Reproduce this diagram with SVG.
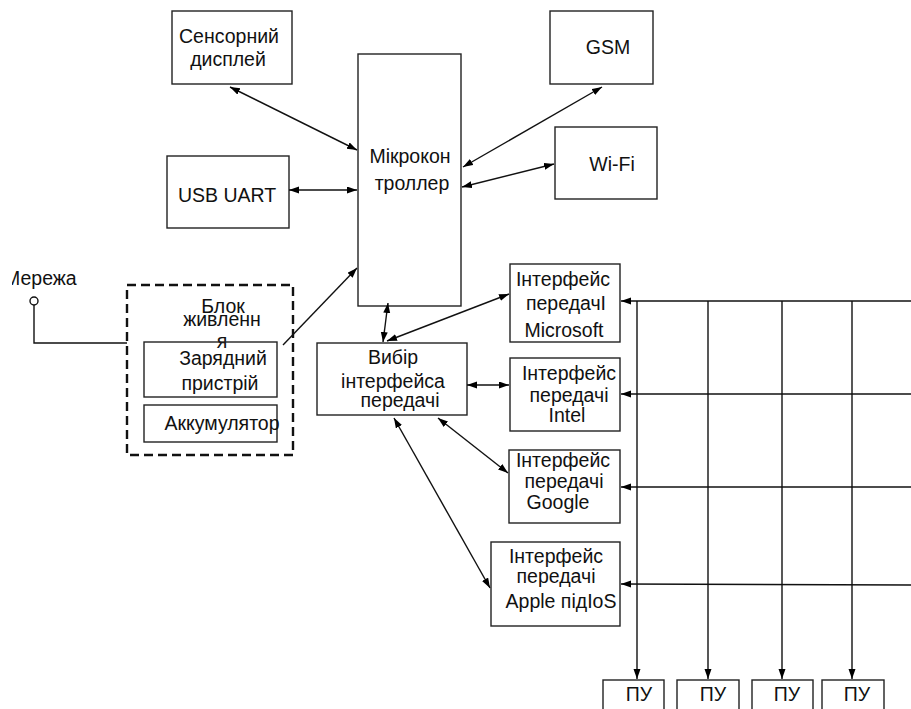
<svg xmlns="http://www.w3.org/2000/svg" width="911" height="709" viewBox="0 0 911 709">
<defs>
<marker id="ah" markerUnits="userSpaceOnUse" markerWidth="11" markerHeight="8" refX="10" refY="3.5" orient="auto-start-reverse" viewBox="0 0 11 8">
<path d="M0,0 L10,3.5 L0,7 z" fill="#000"/>
</marker>
<clipPath id="clipM"><rect x="12" y="260" width="100" height="40"/></clipPath>
</defs>
<style>
.box{fill:#fff;stroke:#222;stroke-width:1.4}
.dash{fill:none;stroke:#111;stroke-width:2.4;stroke-dasharray:9 5}
.t{font-family:"Liberation Sans",Arial,sans-serif;font-size:19.5px;fill:#111;text-anchor:middle}
.tl{font-family:"Liberation Sans",Arial,sans-serif;font-size:19.5px;fill:#111}
.ln{fill:none;stroke:#111;stroke-width:1.4}
.bi{fill:none;stroke:#111;stroke-width:1.4;marker-start:url(#ah);marker-end:url(#ah)}
.un{fill:none;stroke:#111;stroke-width:1.4;marker-end:url(#ah)}
</style>
<rect width="911" height="709" fill="#fff"/>

<g id="display">
<rect class="box" x="172" y="11" width="120" height="73"/>
<text class="t" x="229" y="43">Сенсорний</text>
<text class="t" x="228" y="66">дисплей</text>
</g>
<g id="usb">
<rect class="box" x="167" y="156" width="122" height="72"/>
<text class="t" x="227" y="202">USB UART</text>
</g>
<g id="mcu">
<rect class="box" x="358" y="54" width="103" height="252"/>
<text class="t" x="410" y="163">Мікрокон</text>
<text class="t" x="412" y="190">троллер</text>
</g>
<g id="gsm">
<rect class="box" x="550" y="11" width="103" height="73"/>
<text class="t" x="608" y="54">GSM</text>
</g>
<g id="wifi">
<rect class="box" x="555" y="127" width="102" height="72"/>
<text class="t" x="612" y="171">Wi-Fi</text>
</g>
<g id="network">
<text class="tl" x="4" y="285" clip-path="url(#clipM)">Мережа</text>
<circle cx="34" cy="301" r="4" fill="#fff" stroke="#111" stroke-width="1.4"/>
</g>
<g id="power">
<rect class="dash" x="127" y="285" width="166" height="170"/>
<text class="t" x="223" y="313">Блок</text>
<text class="t" x="222" y="326">живленн</text>
<text class="t" x="222" y="348">я</text>
</g>
<g id="charger">
<rect class="box" x="144" y="342" width="133" height="55" fill="none" style="fill:none"/>
<text class="t" x="223" y="365">Зарядний</text>
<text class="t" x="220" y="390">пристрій</text>
</g>
<g id="battery">
<rect class="box" x="144" y="405" width="133" height="37"/>
<text class="t" x="222" y="430">Аккумулятор</text>
</g>
<g id="selector">
<rect class="box" x="317" y="343" width="150" height="72"/>
<text class="t" x="393" y="364">Вибір</text>
<text class="t" x="393" y="388">інтерфейса</text>
<text class="t" x="400" y="407">передачі</text>
</g>
<g id="microsoft">
<rect class="box" x="510" y="264" width="110" height="78"/>
<text class="t" x="563" y="286">Інтерфейс</text>
<text class="t" x="566" y="310">передачІ</text>
<text class="t" x="564" y="337">Microsoft</text>
</g>
<g id="intel">
<rect class="box" x="510" y="358" width="110" height="73"/>
<text class="t" x="569" y="380">Інтерфейс</text>
<text class="t" x="569" y="402">передачі</text>
<text class="t" x="567" y="422">Intel</text>
</g>
<g id="google">
<rect class="box" x="509" y="450" width="111" height="73"/>
<text class="t" x="563" y="467">Інтерфейс</text>
<text class="t" x="564" y="488">передачі</text>
<text class="t" x="558" y="509">Google</text>
</g>
<g id="apple">
<rect class="box" x="491" y="542" width="129" height="84"/>
<text class="t" x="556" y="563">Інтерфейс</text>
<text class="t" x="556" y="583">передачі</text>
<text class="t" x="561" y="608">Apple підIoS</text>
</g>
<g id="pu1">
<rect class="box" x="603" y="680" width="61" height="40"/>
<text class="t" x="639" y="701">ПУ</text>
</g>
<g id="pu2">
<rect class="box" x="677" y="680" width="62" height="40"/>
<text class="t" x="713" y="701">ПУ</text>
</g>
<g id="pu3">
<rect class="box" x="752" y="680" width="61" height="40"/>
<text class="t" x="787" y="701">ПУ</text>
</g>
<g id="pu4">
<rect class="box" x="822" y="680" width="62" height="40"/>
<text class="t" x="857" y="701">ПУ</text>
</g>

<g id="connectors">
<line class="bi" x1="230" y1="87" x2="357" y2="150"/>
<line class="bi" x1="289" y1="190" x2="357" y2="190"/>
<line class="bi" x1="602" y1="87" x2="463" y2="167"/>
<line class="bi" x1="554" y1="164" x2="462" y2="187"/>
<line class="un" x1="283" y1="345" x2="357" y2="268"/>
<polyline class="ln" points="34,305 34,343 127,343"/>
<line class="bi" x1="388" y1="303" x2="383" y2="342"/>
<line class="bi" x1="387" y1="341" x2="509" y2="294"/>
<line class="bi" x1="467" y1="385" x2="509" y2="385"/>
<line class="bi" x1="438" y1="418" x2="508" y2="473"/>
<line class="bi" x1="394" y1="418" x2="490" y2="588"/>
<line class="un" x1="911" y1="301" x2="621" y2="301"/>
<line class="un" x1="911" y1="394" x2="621" y2="394"/>
<line class="un" x1="911" y1="487" x2="621" y2="487"/>
<line class="un" x1="911" y1="585" x2="621" y2="584"/>
<line class="un" x1="637" y1="301" x2="637" y2="679"/>
<line class="un" x1="708" y1="301" x2="708" y2="679"/>
<line class="un" x1="782" y1="301" x2="782" y2="679"/>
<line class="un" x1="852" y1="301" x2="852" y2="679"/>
</g>
</svg>
